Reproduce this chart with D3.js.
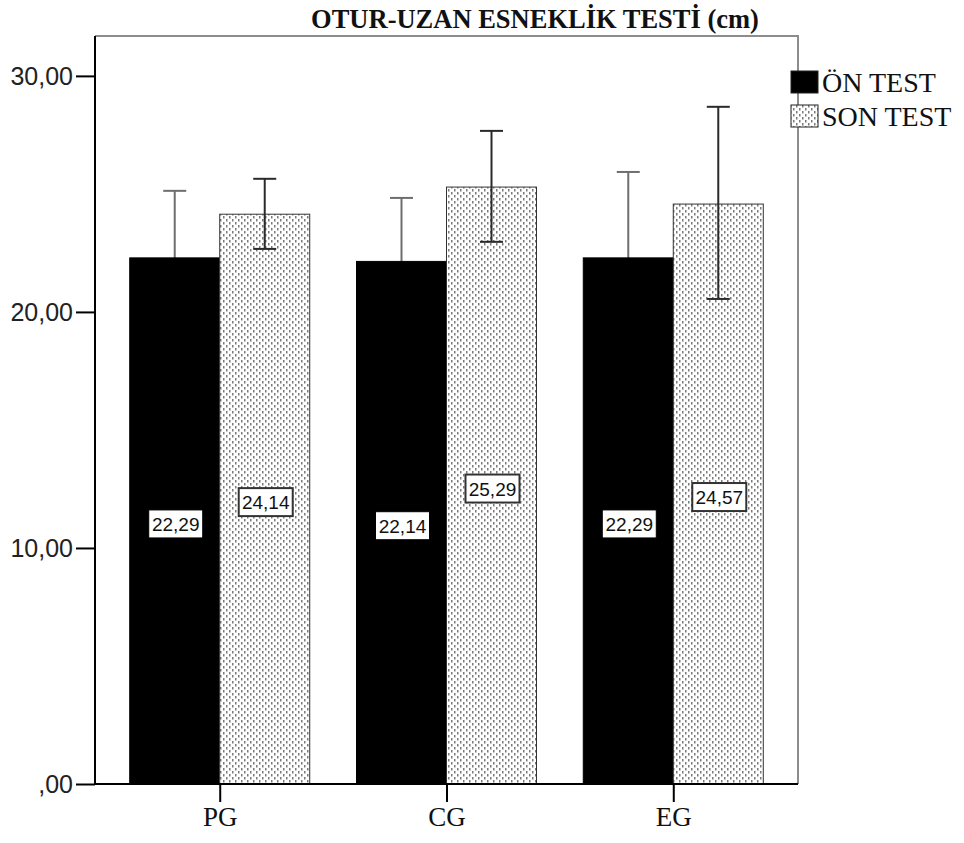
<!DOCTYPE html>
<html>
<head>
<meta charset="utf-8">
<script src="https://cdn.jsdelivr.net/npm/d3@7/dist/d3.min.js"></script>
<style>
  html, body { margin: 0; padding: 0; background: #fff; }
  svg { display: block; }
</style>
</head>
<body>
<svg id="chart" width="964" height="843"></svg>
<script>
// Group means and error-bar bounds
const groups = ["PG", "CG", "EG"];
const seriesNames = ["ÖN TEST", "SON TEST"];
const onTest = [22.29, 22.14, 22.29];
const sonTest = [24.14, 25.29, 24.57];
const onTestUpper = [25.13, 24.83, 25.93];
const onTestLower = [19.45, 19.45, 18.65];
const sonTestUpper = [25.64, 27.67, 28.69];
const sonTestLower = [22.67, 22.97, 20.55];
const yTicks = [0, 10, 20, 30];
const yTickLabels = [",00", "10,00", "20,00", "30,00"];
const titleText = "OTUR-UZAN ESNEKLİK TESTİ (cm)";

const svg = d3.select("#chart");
const plotLeft = 95, plotRight = 798, plotTop = 36, plotBottom = 784;

const x = d3.scalePoint().domain(groups).range([plotLeft, plotRight]).padding(0.55);
const y = d3.scaleLinear().domain([0, 31.69]).range([plotBottom, plotTop]);
const barW = 90;

// Dotted fill
const defs = svg.append("defs");
const pat = defs.append("pattern")
  .attr("id", "dots").attr("patternUnits", "userSpaceOnUse")
  .attr("width", 6).attr("height", 6);
pat.append("rect").attr("width", 6).attr("height", 6).attr("fill", "#fff");
pat.append("rect").attr("x", 1).attr("y", 0).attr("width", 1.5).attr("height", 2.5).attr("fill", "#7a7a7a");
pat.append("rect").attr("x", 4).attr("y", 3).attr("width", 1.5).attr("height", 2.5).attr("fill", "#7a7a7a");

// Frame (top and right edges)
svg.append("path")
  .attr("d", `M${plotLeft},${plotTop}H${plotRight}V${plotBottom}`)
  .attr("fill", "none").attr("stroke", "#8c8c8c").attr("stroke-width", 2);

const series = [
  { name: seriesNames[0], vals: onTest, up: onTestUpper, lo: onTestLower, off: -barW, fill: "#000", stroke: "#000", whisker: "#6e6e6e" },
  { name: seriesNames[1], vals: sonTest, up: sonTestUpper, lo: sonTestLower, off: 0, fill: "url(#dots)", stroke: "#333", whisker: "#2a2a2a" }
];

function drawErrorBars(s) {
  const g = svg.append("g").attr("stroke", s.whisker).attr("stroke-width", 2);
  groups.forEach((d, i) => {
    const cx = x(d) + s.off + barW / 2;
    g.append("line").attr("x1", cx).attr("x2", cx).attr("y1", y(s.up[i])).attr("y2", y(s.lo[i]));
    g.append("line").attr("x1", cx - 11.5).attr("x2", cx + 11.5).attr("y1", y(s.up[i])).attr("y2", y(s.up[i]));
    g.append("line").attr("x1", cx - 11.5).attr("x2", cx + 11.5).attr("y1", y(s.lo[i])).attr("y2", y(s.lo[i]));
  });
}

// Pre-test whiskers sit behind the solid bars
drawErrorBars(series[0]);

// Bars
series.forEach(s => {
  const g = svg.append("g");
  g.selectAll("rect").data(groups).join("rect")
    .attr("x", d => x(d) + s.off)
    .attr("y", (d, i) => y(s.vals[i]))
    .attr("width", barW)
    .attr("height", (d, i) => y(0) - y(s.vals[i]))
    .attr("fill", s.fill)
    .attr("stroke", s.stroke).attr("stroke-width", 1);
});

// Post-test whiskers drawn over the dotted bars
drawErrorBars(series[1]);

// Value labels at bar mid-height
series.forEach((s, si) => {
  groups.forEach((d, i) => {
    const cx = x(d) + s.off + barW / 2 + 1;
    const cy = y(s.vals[i] / 2) + 3;
    const w = 54, h = 28;
    svg.append("rect")
      .attr("x", cx - w / 2).attr("y", cy - h / 2).attr("width", w).attr("height", h)
      .attr("fill", "#fff").attr("stroke", si === 0 ? "#000" : "#333")
      .attr("stroke-width", si === 0 ? 1 : 2);
    svg.append("text")
      .attr("x", cx).attr("y", cy + 7)
      .attr("text-anchor", "middle")
      .attr("font-family", "Liberation Sans, Arial, sans-serif")
      .attr("font-size", 19).attr("fill", "#111")
      .text(s.vals[i].toFixed(2).replace(".", ","));
  });
});

// Y axis
const yAxis = d3.axisLeft(y).tickValues(yTicks).tickSize(19).tickPadding(3)
  .tickFormat((d, i) => yTickLabels[i]);
const gy = svg.append("g").attr("transform", `translate(${plotLeft},0)`).call(yAxis);
gy.select(".domain").attr("d", `M0,${plotTop}V${plotBottom}`).attr("stroke", "#000").attr("stroke-width", 2);
gy.selectAll(".tick line").attr("stroke", "#000").attr("stroke-width", 2);
gy.selectAll(".tick text")
  .attr("font-family", "Liberation Sans, Arial, sans-serif")
  .attr("font-size", 25).attr("fill", "#222").attr("dy", "0.35em");

// X axis
const xAxis = d3.axisBottom(x).tickSize(18).tickPadding(5);
const gx = svg.append("g").attr("transform", `translate(0,${plotBottom})`).call(xAxis);
gx.select(".domain").attr("d", `M${plotLeft},0H${plotRight}`).attr("stroke", "#000").attr("stroke-width", 2);
gx.selectAll(".tick line").attr("stroke", "#000").attr("stroke-width", 2);
gx.selectAll(".tick text")
  .attr("font-family", "Liberation Serif, Times New Roman, serif")
  .attr("font-size", 27).attr("fill", "#111");

// Title
svg.append("text")
  .attr("x", 535).attr("y", 28)
  .attr("text-anchor", "middle")
  .attr("font-family", "Liberation Serif, Times New Roman, serif")
  .attr("font-weight", "bold").attr("font-size", 26.5).attr("fill", "#111")
  .text(titleText);

// Legend
const legend = svg.append("g");
series.forEach((s, i) => {
  const ly = 71 + i * 34;
  legend.append("rect")
    .attr("x", 791).attr("y", ly).attr("width", 27).attr("height", 22)
    .attr("fill", s.fill).attr("stroke", "#222").attr("stroke-width", 1);
  legend.append("text")
    .attr("x", 822).attr("y", ly + 21)
    .attr("font-family", "Liberation Serif, Times New Roman, serif")
    .attr("font-size", 28).attr("fill", "#111")
    .text(s.name);
});
</script>
</body>
</html>
